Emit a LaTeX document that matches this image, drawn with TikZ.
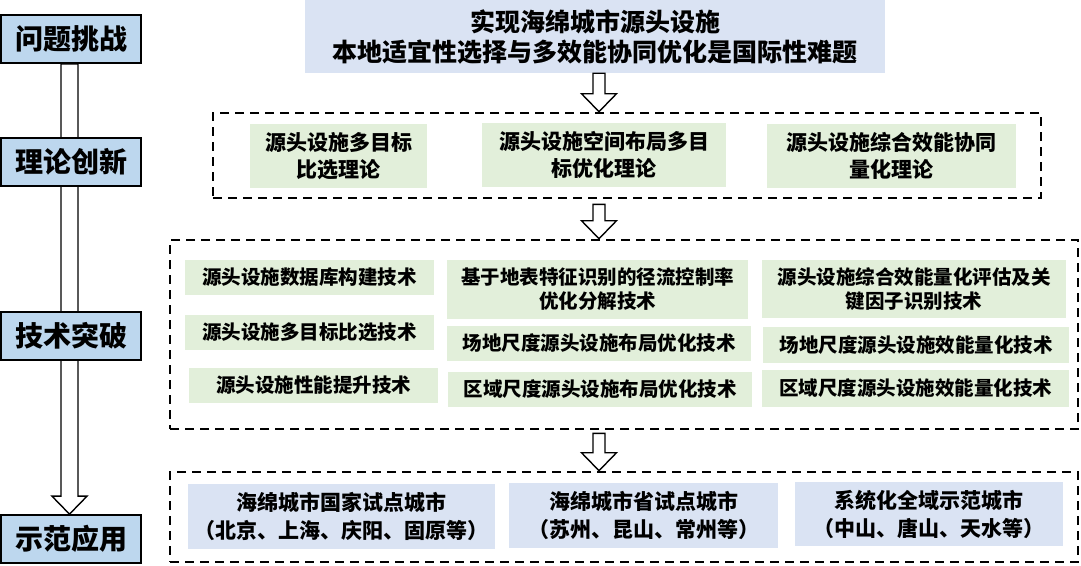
\documentclass[tikz,border=0pt]{standalone}
\usepackage{fontspec}
\newfontfamily\cjk{Noto Sans CJK SC}
\usetikzlibrary{backgrounds,calc}
\definecolor{lblue}{HTML}{BDD7EE}
\definecolor{pblue}{HTML}{DAE3F3}
\definecolor{pgreen}{HTML}{E2EFDA}
\newcommand\blockarr[5]{%
  \draw[blockarrow] let \p1=#2, \p2=#3 in
    (#1pt-#4pt,\y1) -- (#1pt-#4pt,\y2+18pt) -- (#1pt-#5pt,\y2+18pt) -- (#1pt,\y2)
    -- (#1pt+#5pt,\y2+18pt) -- (#1pt+#4pt,\y2+18pt) -- (#1pt+#4pt,\y1) -- cycle;}
\begin{document}
\begin{tikzpicture}[x=1pt,y=-1pt,
  stage/.style={draw=black, line width=1.7pt, fill=lblue, inner sep=0pt,
    minimum width=140pt, minimum height=48pt,
    font=\cjk\bfseries\fontsize{28}{32}\selectfont},
  topbox/.style={fill=pblue, inner sep=0pt, align=center,
    font=\cjk\bfseries\fontsize{25}{30}\selectfont},
  theory/.style={fill=pgreen, inner sep=0pt, align=center,
    font=\cjk\bfseries\fontsize{21}{27}\selectfont},
  tech/.style={fill=pgreen, inner sep=0pt, align=center,
    font=\cjk\bfseries\fontsize{19.5}{24}\selectfont},
  demo/.style={fill=pblue, inner sep=0pt, align=center,
    font=\cjk\bfseries\fontsize{21}{28}\selectfont},
  group/.style={draw=black, line width=2.6pt, dash pattern=on 9pt off 6pt, inner sep=0pt},
  blockarrow/.style={draw=black, line width=1.4pt, fill=white, line join=miter},
]
\useasboundingbox (0,0) rectangle (1081,565);

% stage labels
\node[stage] (q1) at (71,39) {问题挑战};
\node[stage] (q2) at (71,162) {理论创新};
\node[stage] (q3) at (71,336) {技术突破};
\node[stage] (q4) at (71,539) {示范应用};

% top problem
\node[topbox, minimum width=580pt, minimum height=73pt] (top) at (595,36.5)
  {实现海绵城市源头设施\\本地适宜性选择与多效能协同优化是国际性难题};

% group frames
\node[group, minimum width=828pt, minimum height=85pt] (d1) at (627,155.5) {};
\node[group, minimum width=908pt, minimum height=189pt] (d2) at (624,334.5) {};
\node[group, minimum width=908pt, minimum height=90pt] (d3) at (624,517) {};

% theory
\node[theory, minimum width=177pt, minimum height=64pt] (tA) at (338.5,156) {源头设施多目标\\比选理论};
\node[theory, minimum width=244pt, minimum height=64pt] (tB) at (604,155) {源头设施空间布局多目\\标优化理论};
\node[theory, minimum width=249pt, minimum height=64pt] (tC) at (891.5,156) {源头设施综合效能协同\\量化理论};

% technology
\node[tech, minimum width=249pt, minimum height=35pt] (c1a) at (309.5,277.5) {源头设施数据库构建技术};
\node[tech, minimum width=249pt, minimum height=35pt] (c1b) at (309.5,332.5) {源头设施多目标比选技术};
\node[tech, minimum width=249pt, minimum height=35pt] (c1c) at (313.5,385.5) {源头设施性能提升技术};
\node[tech, minimum width=301pt, minimum height=59pt] (c2a) at (597.5,289.5) {基于地表特征识别的径流控制率\\优化分解技术};
\node[tech, minimum width=304pt, minimum height=35pt] (c2b) at (599,343.5) {场地尺度源头设施布局优化技术};
\node[tech, minimum width=304pt, minimum height=35pt] (c2c) at (600,389.5) {区域尺度源头设施布局优化技术};
\node[tech, minimum width=304pt, minimum height=58pt] (c3a) at (914,289) {源头设施综合效能量化评估及关\\键因子识别技术};
\node[tech, minimum width=306pt, minimum height=36pt] (c3b) at (916,345) {场地尺度源头设施效能量化技术};
\node[tech, minimum width=307pt, minimum height=37pt] (c3c) at (915.5,388.5) {区域尺度源头设施效能量化技术};

% demonstration
\node[demo, minimum width=307pt, minimum height=65pt] (e1) at (341.5,516.5) {海绵城市国家试点城市\\（北京、上海、庆阳、固原等）};
\node[demo, minimum width=269pt, minimum height=65pt] (e2) at (643.5,515.5) {海绵城市省试点城市\\（苏州、昆山、常州等）};
\node[demo, minimum width=268pt, minimum height=64pt] (e3) at (929,514) {系统化全域示范城市\\（中山、唐山、天水等）};

% block arrows
\blockarr{599}{(top.south)}{(d1.north)}{6}{17.5}
\blockarr{599}{($(d1.south)+(0,5)$)}{(d2.north)}{6}{17.5}
\blockarr{599}{($(d2.south)+(0,3)$)}{(d3.north)}{6}{17.5}
\begin{scope}[on background layer]
\blockarr{69.5}{(q1.south)}{(q4.north)}{8.5}{17.5}
\end{scope}
\end{tikzpicture}
\end{document}
